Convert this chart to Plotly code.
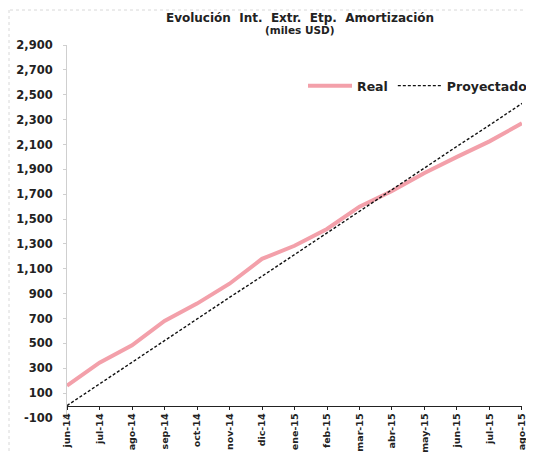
import plotly.graph_objects as go

meses = ["jun-14", "jul-14", "ago-14", "sep-14", "oct-14", "nov-14", "dic-14",
         "ene-15", "feb-15", "mar-15", "abr-15", "may-15", "jun-15", "jul-15", "ago-15"]
real = [160, 345, 485, 680, 820, 980, 1180, 1285, 1420, 1600, 1725, 1870, 2000, 2125, 2270]
proyectado = [0, 175, 345, 520, 695, 870, 1040, 1215, 1390, 1560, 1735, 1910, 2085, 2255, 2430]
y_ticks = [-100, 100, 300, 500, 700, 900, 1100, 1300, 1500, 1700, 1900, 2100, 2300, 2500, 2700, 2900]
y_ticktext = ["-100", "100", "300", "500", "700", "900", "1,100", "1,300", "1,500", "1,700",
              "1,900", "2,100", "2,300", "2,500", "2,700", "2,900"]

# page body has an 8px margin; work in screen coordinates and shift
OX, OY = 8, 8
W, H = 534 - OX, 452 - OY
ml = 67 - OX
mr = W - (522 - OX)
mt = 45 - OY
mb = H - (418 - OY)
ymin, ymax = -100, 2900
xaxis_pos = (0 - ymin) / (ymax - ymin)
plot_h = H - mt - mb
plot_w = W - ml - mr

font_fam = "DejaVu Sans, Liberation Sans, sans-serif"


def px_x(sx):
    return ((sx - OX) - ml) / plot_w


def px_y(sy):
    return ((H - mb) - (sy - OY)) / plot_h


fig = go.Figure()
fig.add_trace(go.Scatter(x=meses, y=real, mode="lines", name="Real",
                         line=dict(color="#F3A0AA", width=4)))
fig.add_trace(go.Scatter(x=meses, y=proyectado, mode="lines", name="Proyectado",
                         line=dict(color="#111111", width=1.4, dash="3px,2px")))

fig.update_layout(
    width=W, height=H,
    margin=dict(l=ml, r=mr, t=mt, b=mb, autoexpand=False),
    paper_bgcolor="white", plot_bgcolor="white",
    showlegend=True,
    title=dict(text="Evolución  Int.  Extr.  Etp.  Amortización",
               x=(300 - OX) / W, xanchor="center", xref="container",
               y=1 - (18 - OY) / H, yref="container", yanchor="middle",
               font=dict(family=font_fam, size=12, color="#222", weight="bold")),
    annotations=[dict(text="(miles USD)", x=px_x(300), y=px_y(30),
                      xref="paper", yref="paper", xanchor="center", yanchor="middle",
                      showarrow=False,
                      font=dict(family=font_fam, size=10.5, color="#222", weight="bold"))],
    shapes=[dict(type="line", xref="paper", yref="paper",
                 x0=px_x(10), x1=px_x(534), y0=px_y(10), y1=px_y(10),
                 line=dict(color="#d8d8d8", width=1, dash="dot")),
            dict(type="line", xref="paper", yref="paper",
                 x0=px_x(9), x1=px_x(9), y0=px_y(10), y1=px_y(452),
                 line=dict(color="#d8d8d8", width=1, dash="dot"))],
    legend=dict(orientation="h", x=px_x(303), xanchor="left",
                y=px_y(86), yref="paper", yanchor="middle",
                font=dict(family=font_fam, size=12.5, color="#222", weight="bold"),
                bgcolor="rgba(0,0,0,0)", itemwidth=44, tracegroupgap=0),
    xaxis=dict(type="category", range=[-0.001, len(meses) - 1 + 0.001],
               anchor="free", position=xaxis_pos,
               showline=True, linecolor="#222", linewidth=1.2,
               ticks="outside", ticklen=3, tickcolor="#222",
               tickangle=-90, showgrid=False, zeroline=False,
               tickfont=dict(family=font_fam, size=9.5, color="#222", weight="bold"),
               automargin=False),
    yaxis=dict(range=[ymin, ymax], tickvals=y_ticks, ticktext=y_ticktext,
               showline=True, linecolor="#cfcfcf", linewidth=1,
               ticks="outside", ticklen=3, tickcolor="#cfcfcf",
               ticklabelstandoff=8,
               showgrid=False, zeroline=False,
               tickfont=dict(family=font_fam, size=11.5, color="#222", weight="bold"),
               automargin=False),
)

fig.write_html("out.html")
